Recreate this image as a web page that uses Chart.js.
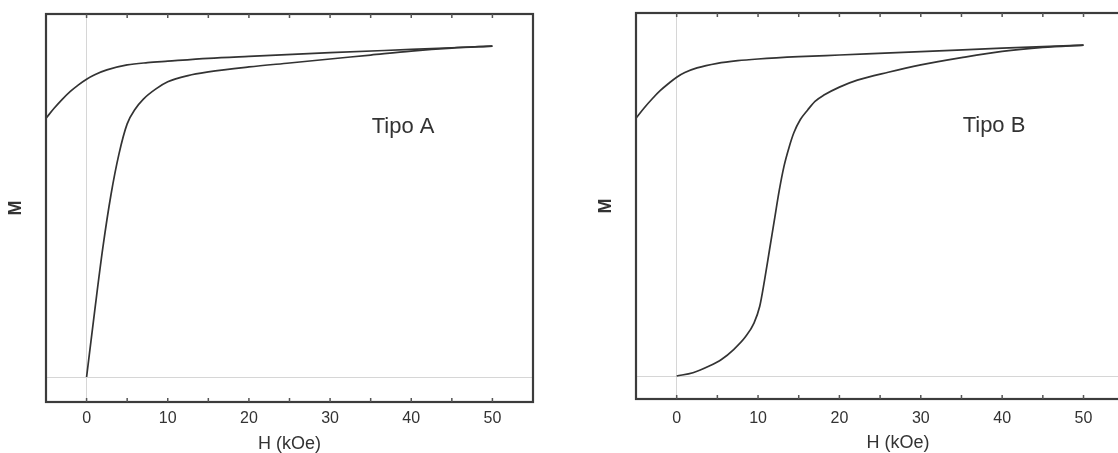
<!DOCTYPE html>
<html><head><meta charset="utf-8">
<script src="https://cdn.jsdelivr.net/npm/chart.js@4"></script>
<style>
html,body{margin:0;padding:0;background:#fff;overflow:hidden;width:1118px;height:453px;position:relative}
#a{position:absolute;left:0;top:0}
#b{position:absolute;left:560px;top:0}
</style></head>
<body>
<canvas id="a" width="560" height="470"></canvas>
<canvas id="b" width="600" height="470"></canvas>
<script>
// ---- data (H in kOe, M normalised) ----
const xTicks = [0, 10, 20, 30, 40, 50];
const minorTicks = [0, 5, 10, 15, 20, 25, 30, 35, 40, 45, 50];

const upperA_H = [-5, -4, -3, -2, -1, 0, 1, 2.5, 5, 7.5, 10, 15, 20, 30, 40, 50];
const upperA_M = [0.782, 0.812, 0.839, 0.863, 0.883, 0.900, 0.9135, 0.928, 0.943, 0.950, 0.9545, 0.963, 0.969, 0.980, 0.990, 1.0];
const lowerA_H = [0, 1, 2, 3, 4, 5, 6, 7, 8.5, 10, 12.5, 15, 20, 25, 30, 35, 40, 45, 50];
const lowerA_M = [0, 0.20, 0.39, 0.55, 0.675, 0.765, 0.81, 0.84, 0.87, 0.892, 0.911, 0.922, 0.937, 0.949, 0.961, 0.973, 0.985, 0.994, 1.0];

const upperB_H = [-5, -4, -3, -2, -1, 0, 1, 2.5, 5, 7.5, 10, 15, 20, 30, 40, 50];
const upperB_M = [0.779, 0.810, 0.838, 0.863, 0.884, 0.903, 0.917, 0.931, 0.945, 0.953, 0.958, 0.965, 0.970, 0.980, 0.991, 1.0];
const lowerB_H = [0, 2, 4, 5.5, 7, 8.5, 9.5, 10.2, 10.8, 11.4, 12, 12.6, 13.2, 13.8, 14.4, 15.2, 16.1, 17, 18.1, 20, 22.2, 26, 30, 35, 40, 45, 50];
const lowerB_M = [0, 0.01, 0.03, 0.05, 0.08, 0.12, 0.16, 0.21, 0.29, 0.38, 0.47, 0.56, 0.635, 0.69, 0.735, 0.775, 0.804, 0.83, 0.849, 0.873, 0.894, 0.918, 0.94, 0.962, 0.981, 0.993, 1.0];

const labelA = 'Tipo A';
const labelB = 'Tipo B';
const xTitle = 'H (kOe)';
const yTitle = 'M';

const pts = (hs, ms) => hs.map((h, i) => ({x: h, y: ms[i]}));

const framePlugin = {
  id: 'frame',
  afterDatasetsDraw(chart, args, o) {
    const {ctx, chartArea: a, scales: {x, y}} = chart;
    ctx.save();
    ctx.strokeStyle = '#3c3c3c';
    ctx.lineWidth = 2.2;
    ctx.strokeRect(a.left, a.top, a.right - a.left, a.bottom - a.top);
    ctx.lineWidth = 1.5;
    ctx.strokeStyle = '#555';
    ctx.beginPath();
    for (const v of minorTicks) {
      const px = x.getPixelForValue(v);
      ctx.moveTo(px, a.bottom); ctx.lineTo(px, a.bottom - 4);
      ctx.moveTo(px, a.top); ctx.lineTo(px, a.top + 4);
    }
    ctx.stroke();
    ctx.fillStyle = '#333';
    ctx.font = '22px "Liberation Sans", Arial, sans-serif';
    ctx.textAlign = 'center';
    ctx.textBaseline = 'middle';
    ctx.fillText(o.text, x.getPixelForValue(o.lx), y.getPixelForValue(o.ly));
    ctx.restore();
  }
};

function make(id, cfg) {
  return new Chart(document.getElementById(id), {
    type: 'scatter',
    data: {
      datasets: [
        {data: pts(cfg.uH, cfg.uM)},
        {data: pts(cfg.lH, cfg.lM)}
      ]
    },
    options: {
      responsive: false,
      animation: false,
      devicePixelRatio: 1,
      showLine: true,
      elements: {
        point: {radius: 0, hoverRadius: 0},
        line: {borderColor: '#333', borderWidth: 1.7, cubicInterpolationMode: 'monotone'}
      },
      layout: {padding: {top: cfg.top, right: cfg.right, left: 0, bottom: 0}},
      plugins: {legend: {display: false}, tooltip: {enabled: false},
        frame: {text: cfg.text, lx: 39, ly: 0.755}},
      scales: {
        x: {
          type: 'linear', min: -5, max: cfg.xmax,
          afterBuildTicks: s => { s.ticks = xTicks.map(v => ({value: v})); },
          afterFit: s => { s.height = cfg.xh; },
          ticks: {autoSkip: false, maxRotation: 0, padding: cfg.tp, color: '#333',
            font: {family: '"Liberation Sans", Arial, sans-serif', size: 16}},
          grid: {drawTicks: false, lineWidth: 1,
            color: c => (c.tick && c.tick.value === 0) ? '#d6d6d6' : 'rgba(0,0,0,0)'},
          border: {display: false},
          title: {display: true, text: xTitle, color: '#333',
            font: {family: '"Liberation Sans", Arial, sans-serif', size: 18},
            padding: {top: 0, bottom: cfg.tb}}
        },
        y: {
          type: 'linear', min: cfg.ymin, max: cfg.ymax,
          afterBuildTicks: s => { s.ticks = [{value: 0}]; },
          afterFit: s => { s.width = cfg.yw; },
          ticks: {display: false},
          grid: {drawTicks: false, lineWidth: 1,
            color: c => (c.tick && c.tick.value === 0) ? '#d6d6d6' : 'rgba(0,0,0,0)'},
          border: {display: false},
          title: {display: true, text: yTitle, color: '#333',
            font: {family: '"Liberation Sans", Arial, sans-serif', size: 18, weight: 'bold'},
            padding: {top: cfg.yp, bottom: 0}}
        }
      }
    },
    plugins: [framePlugin]
  });
}

make('a', {uH: upperA_H, uM: upperA_M, lH: lowerA_H, lM: lowerA_M, text: labelA,
  top: 14, right: 27, xmax: 55, xh: 68, tp: 7, tb: 15, yw: 46, yp: 5,
  ymin: -0.0755, ymax: 1.097});
make('b', {uH: upperB_H, uM: upperB_M, lH: lowerB_H, lM: lowerB_M, text: labelB,
  top: 13, right: 0, xmax: 59.4, xh: 71, tp: 10, tb: 16, yw: 76, yp: 35,
  ymin: -0.0695, ymax: 1.097});
</script>
</body></html>
